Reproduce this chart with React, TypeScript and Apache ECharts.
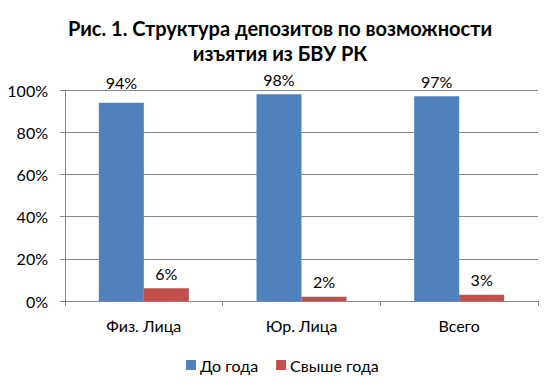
import React, { useEffect, useRef } from "react";
import * as echarts from "echarts";

const categories = ["Физ. Лица", "Юр. Лица", "Всего"];
const seriesNames = ["До года", "Свыше года"];
const shortTerm = [94, 98, 97];
const longTerm = [6, 2, 3];
const yTicks = [0, 20, 40, 60, 80, 100];

const FONT = "Lato, 'Open Sans', sans-serif";

export default function App() {
  const ref = useRef<HTMLDivElement>(null);
  useEffect(() => {
    document.body.style.margin = "0";
    const chart = echarts.init(ref.current!, null, { renderer: "svg" });
    const labelBase = {
      show: true,
      position: "top",
      distance: 7,
      formatter: "{c}%",
      color: "#000",
      fontSize: 16,
      fontFamily: FONT,
    };
    chart.setOption({
      animation: false,
      backgroundColor: "#fff",
      graphic: [
        {
          type: "text",
          x: 280,
          y: 15,
          style: {
            text: "Рис. 1. Структура депозитов по возможности\nизъятия из БВУ РК",
            font: `bold 20px ${FONT}`,
            textAlign: "center",
            textVerticalAlign: "top",
            lineHeight: 25.5,
            fill: "#000",
          },
        },
      ],
      legend: {
        data: seriesNames,
        left: 181,
        top: 352,
        itemWidth: 10,
        itemHeight: 10,
        itemGap: 18,
        icon: "rect",
        textStyle: { fontSize: 16, fontFamily: FONT, color: "#000", padding: [0, 0, 0, -1] },
      },
      grid: { left: 65, right: 16, top: 90, bottom: 85, containLabel: false },
      xAxis: {
        type: "category",
        data: categories,
        axisLine: { lineStyle: { color: "#868686" } },
        axisTick: { show: true, length: 5, lineStyle: { color: "#868686" } },
        axisLabel: { fontSize: 16, fontFamily: FONT, color: "#000", margin: 16 },
      },
      yAxis: {
        type: "value",
        min: yTicks[0],
        max: yTicks[yTicks.length - 1],
        interval: 20,
        axisLine: { show: true, lineStyle: { color: "#868686" } },
        axisTick: { show: true, length: 5, lineStyle: { color: "#868686" } },
        splitLine: { lineStyle: { color: "#868686" } },
        axisLabel: { fontSize: 16, fontFamily: FONT, color: "#000", formatter: "{value}%", margin: 17 },
      },
      series: [
        {
          name: seriesNames[0],
          type: "bar",
          barWidth: 45,
          barGap: "0%",
          itemStyle: { color: "#4F81BD" },
          label: labelBase,
          data: shortTerm.map((v, i) => (i === 0 ? { value: v, label: { distance: 12 } } : v)),
        },
        {
          name: seriesNames[1],
          type: "bar",
          barWidth: 45,
          barGap: "0%",
          itemStyle: { color: "#C0504D" },
          label: labelBase,
          data: longTerm,
        },
      ],
    });
    return () => chart.dispose();
  }, []);
  return <div ref={ref} style={{ width: 554, height: 386, position: "absolute", left: 0, top: 0 }} />;
}
